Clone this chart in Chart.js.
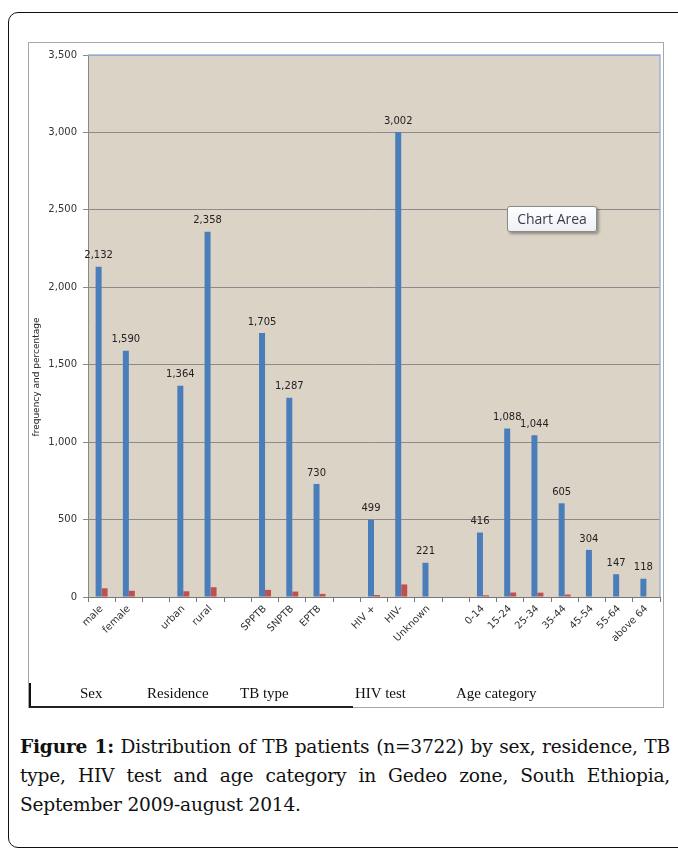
<!DOCTYPE html>
<html>
<head>
<meta charset="utf-8">
<script src="https://cdn.jsdelivr.net/npm/chart.js@4.4.1/dist/chart.umd.min.js"></script>
<style>
  body { margin: 0; width: 678px; height: 853px; background: #fff; position: relative; overflow: hidden; }
  #frame { position: absolute; left: 8px; top: 12px; width: 700px; height: 836px; border: 1.5px solid #111; border-radius: 10px; box-sizing: border-box; }
  #box { position: absolute; left: 28px; top: 42px; width: 636px; height: 666px; border: 1px solid #a8a8a8; background: #fff; box-sizing: border-box; }
  #wrap { position: absolute; left: 29px; top: 43px; width: 634px; height: 664px; }
  .grp { position: absolute; top: 685px; font: 15px "Liberation Serif", serif; color: #111; }
  #tip { position: absolute; left: 507px; top: 206px; width: 90px; height: 26px; box-sizing: border-box;
         border: 1px solid #8a8a8a; border-radius: 3px; background: linear-gradient(#fff, #eef0f4);
         box-shadow: 2px 2px 3px rgba(0,0,0,0.35); font: 14px "Open Sans", sans-serif; color: #3b3b4f;
         text-align: center; line-height: 24px; }
  #cap { position: absolute; left: 20px; top: 732px; width: 650px; font: 18.6px "DejaVu Serif", serif; color: #111; line-height: 29px; letter-spacing: -0.2px; }
  #cap div { text-align: justify; text-align-last: justify; white-space: nowrap; }
  #cap div.last { text-align-last: left; }
</style>
</head>
<body>
<div id="frame"></div>
<div id="box"></div>
<div id="wrap"><canvas id="tbChart"></canvas></div>
<div style="position:absolute;left:29px;top:683px;width:2px;height:25px;background:#111"></div>
<div style="position:absolute;left:30px;top:706px;width:323px;height:2px;background:#222"></div>
<div class="grp" style="left:80px">Sex</div>
<div class="grp" style="left:147px">Residence</div>
<div class="grp" style="left:240px">TB type</div>
<div class="grp" style="left:355px">HIV test</div>
<div class="grp" style="left:456px">Age category</div>
<div id="tip">Chart Area</div>
<div id="cap">
  <div><b>Figure 1:</b> Distribution of TB patients (n=3722) by sex, residence, TB</div>
  <div>type, HIV test and age category in Gedeo zone, South Ethiopia,</div>
  <div class="last">September 2009-august 2014.</div>
</div>
<script>
const categories = ['male', 'female', '', 'urban', 'rural', '', 'SPPTB', 'SNPTB', 'EPTB', '',
  'HIV +', 'HIV-', 'Unknown', '', '0-14', '15-24', '25-34', '35-44', '45-54', '55-64', 'above 64'];
const frequency = [2132, 1590, null, 1364, 2358, null, 1705, 1287, 730, null,
  499, 3002, 221, null, 416, 1088, 1044, 605, 304, 147, 118];
const percentage = [56, 40, null, 37, 63, null, 46, 35, 20, null,
  13, 81, 0, null, 11, 29, 28, 16, 0, 0, 0];
const yTicks = [0, 500, 1000, 1500, 2000, 2500, 3000, 3500];

const plotStyle = {
  id: 'plotStyle',
  beforeDraw(chart) {
    const a = chart.chartArea, c = chart.ctx;
    c.save();
    c.fillStyle = '#dbd3c6';
    c.fillRect(a.left, a.top, a.right - a.left, a.bottom - a.top);
    c.restore();
  },
  afterDraw(chart) {
    const a = chart.chartArea, c = chart.ctx;
    c.save();
    c.strokeStyle = '#9db4d6';
    c.lineWidth = 1.5;
    c.beginPath();
    c.moveTo(a.left, a.top);
    c.lineTo(a.right, a.top);
    c.lineTo(a.right, a.bottom);
    c.stroke();
    // y axis title, sits a little below the middle as in the original
    c.translate(8, 334);
    c.rotate(-Math.PI / 2);
    c.font = '9px "DejaVu Sans"';
    c.fillStyle = '#222';
    c.textAlign = 'center';
    c.textBaseline = 'middle';
    c.fillText('frequency and percentage', 0, 0);
    c.restore();
  },
  afterDatasetsDraw(chart) {
    const c = chart.ctx;
    const meta = chart.getDatasetMeta(0);
    c.save();
    c.font = '10px "DejaVu Sans"';
    c.fillStyle = '#222';
    c.textAlign = 'center';
    c.textBaseline = 'bottom';
    meta.data.forEach((bar, i) => {
      const v = frequency[i];
      if (v == null) return;
      c.fillText(v.toLocaleString('en-US'), bar.x, bar.y - 6);
    });
    c.restore();
  }
};

new Chart(document.getElementById('tbChart'), {
  type: 'bar',
  data: {
    labels: categories,
    datasets: [{
      label: 'frequency',
      data: frequency,
      backgroundColor: '#4a7ebb'
    }, {
      label: 'percentage',
      data: percentage,
      backgroundColor: '#c0504d'
    }]
  },
  options: {
    responsive: true,
    maintainAspectRatio: false,
    animation: false,
    categoryPercentage: 0.44,
    barPercentage: 1,
    layout: { padding: { left: 0, top: 9, right: 3, bottom: 0 } },
    plugins: {
      legend: { display: false },
      tooltip: { enabled: false }
    },
    scales: {
      x: {
        afterFit(scale) { scale.height = 110; },
        grid: { offset: true, drawOnChartArea: false, tickLength: 5, color: '#777' },
        border: { color: '#777' },
        ticks: {
          autoSkip: false, maxRotation: 45, minRotation: 45, padding: 1,
          color: '#333', font: { family: 'DejaVu Sans', size: 10 }
        }
      },
      y: {
        min: 0,
        max: 3500,
        afterFit(scale) { scale.width = 59; },
        afterBuildTicks(scale) { scale.ticks = yTicks.map(v => ({ value: v })); },
        grid: { color: '#8a8a8a', tickLength: 5, lineWidth: 1 },
        border: { color: '#888' },
        ticks: {
          padding: 6, color: '#333', font: { family: 'DejaVu Sans', size: 10 },
          callback: v => v.toLocaleString('en-US')
        }
      }
    }
  },
  plugins: [plotStyle]
});
</script>
</body>
</html>
